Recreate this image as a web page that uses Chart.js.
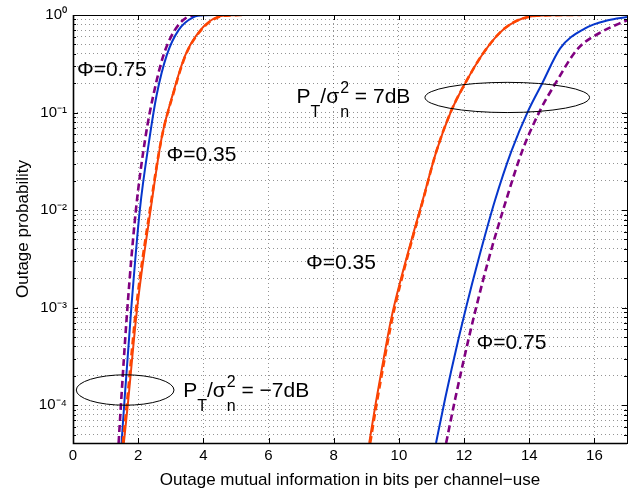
<!DOCTYPE html>
<html><head><meta charset="utf-8">
<script src="https://cdn.jsdelivr.net/npm/chart.js@4.4.1/dist/chart.umd.min.js"></script>
<style>html,body{margin:0;padding:0;background:#fff}#wrap{width:636px;height:495px}</style>
</head><body><div id="wrap"><canvas id="c" width="636" height="495"></canvas></div>
<script>
// ---------- data ----------
const xTickValues = [0, 2, 4, 6, 8, 10, 12, 14, 16];
const yTickValues = [1e-4, 1e-3, 1e-2, 1e-1, 1];
const yTickLabels = ['10\u207B\u2074', '10\u207B\u00B3', '10\u207B\u00B2', '10\u207B\u00B9', '10\u2070'];

// P_T/sigma^2 = -7 dB group
const leftPurpleX = [1.40, 1.47, 1.67, 1.93, 2.22, 2.47, 2.78, 3.09, 3.50, 3.80, 3.95];
const leftPurpleP = [4.1e-5, 1e-4, 1e-3, 1e-2, 0.055, 0.153, 0.39, 0.67, 0.95, 0.995, 1];
const leftBlueX = [1.49, 1.57, 1.79, 2.05, 2.35, 2.57, 2.88, 3.24, 3.70, 4.05, 4.40];
const leftBlueP = [4.1e-5, 1e-4, 1e-3, 1e-2, 0.055, 0.153, 0.39, 0.70, 0.95, 0.995, 1];
const leftOrangeX = [1.56, 1.68, 1.97, 2.38, 2.72, 3.06, 3.45, 3.91, 4.42, 4.90, 5.30];
const leftOrangeP = [4.1e-5, 1e-4, 1e-3, 1e-2, 0.055, 0.153, 0.39, 0.70, 0.95, 0.995, 1];
const leftOrangeDashX = [1.53, 1.65, 1.94, 2.36, 2.72, 3.07, 3.46, 3.93, 4.45, 4.90, 5.20];
const leftOrangeDashP = [4.1e-5, 1e-4, 1e-3, 1e-2, 0.055, 0.153, 0.39, 0.70, 0.95, 0.995, 1];

// P_T/sigma^2 = 7 dB group
const rightOrangeX = [9.09, 9.29, 9.46, 9.72, 9.84, 10.22, 10.73, 11.15, 11.60, 12.01, 12.62, 13.24, 13.96, 14.70, 15.85];
const rightOrangeP = [4.1e-5, 1.05e-4, 2.2e-4, 6.5e-4, 1e-3, 3.1e-3, 1.26e-2, 0.04, 0.103, 0.193, 0.42, 0.726, 0.955, 0.995, 1];
const rightOrangeDashX = [9.12, 9.32, 9.49, 9.75, 9.87, 10.24, 10.74, 11.15, 11.60, 12.01, 12.62, 13.24, 13.96, 14.70, 15.60];
const rightOrangeDashP = [4.1e-5, 1.05e-4, 2.2e-4, 6.5e-4, 1e-3, 3.1e-3, 1.26e-2, 0.04, 0.103, 0.193, 0.42, 0.726, 0.955, 0.995, 1];
const rightBlueX = [11.14, 11.42, 11.83, 12.06, 12.44, 12.95, 13.45, 13.96, 14.40, 14.95, 15.70, 16.42, 17.0];
const rightBlueP = [4.1e-5, 1.17e-4, 4.8e-4, 1e-3, 3.1e-3, 1.26e-2, 0.04, 0.103, 0.2, 0.455, 0.726, 0.883, 0.955];
const rightPurpleX = [11.45, 11.73, 12.14, 12.37, 12.75, 13.29, 13.78, 14.32, 14.78, 15.50, 16.22, 17.0];
const rightPurpleP = [4.1e-5, 1.17e-4, 4.8e-4, 1e-3, 3.1e-3, 1.26e-2, 0.04, 0.103, 0.193, 0.455, 0.671, 0.883];

// ---------- styling / layout ----------
const FONT = '"Liberation Sans", Arial, Helvetica, sans-serif';
const Y_MIN = 4.1e-5;
const ORANGE = '#FF4500', ORANGE_D = '#F0400C', BLUE = '#0636CC', PURPLE = '#800080';
const GRID = 'rgba(0,0,0,0.42)';

function pts(xs, ps) { return xs.map((x, i) => ({x: x, y: ps[i]})); }

function yGridValues() {
  const out = [];
  for (let e = -5; e <= 0; e++) {
    for (let m = 1; m <= 9; m++) {
      const v = m * Math.pow(10, e);
      if (v >= Y_MIN * 0.999 && v <= 1.0001) out.push(v);
      if (e === 0) break;
    }
  }
  return out;
}
function yLabel(v) {
  for (let i = 0; i < yTickValues.length; i++) {
    if (Math.abs(Math.log10(v) - Math.log10(yTickValues[i])) < 1e-6) return yTickLabels[i];
  }
  return '';
}

function solid(data, color, order) {
  return {data: data, borderColor: color, borderWidth: 2, pointRadius: 0, fill: false,
          cubicInterpolationMode: 'monotone', order: order};
}
function dashed(data, color, order) {
  return {data: data, borderColor: color, borderWidth: 2.6, borderDash: [7, 4], pointRadius: 0, fill: false,
          cubicInterpolationMode: 'monotone', order: order};
}

const datasets = [
  dashed(pts(leftOrangeDashX, leftOrangeDashP), ORANGE, 0),
  solid(pts(leftOrangeX, leftOrangeP), ORANGE_D, 1),
  solid(pts(leftBlueX, leftBlueP), BLUE, 2),
  dashed(pts(leftPurpleX, leftPurpleP), PURPLE, 3),
  dashed(pts(rightOrangeDashX, rightOrangeDashP), ORANGE, 0),
  solid(pts(rightOrangeX, rightOrangeP), ORANGE_D, 1),
  solid(pts(rightBlueX, rightBlueP), BLUE, 2),
  dashed(pts(rightPurpleX, rightPurpleP), PURPLE, 3)
];

function drawPLabel(ctx, x, y, tail) {
  const big = '21px ' + FONT, small = '16px ' + FONT;
  ctx.font = big; ctx.fillText('P', x, y); x += ctx.measureText('P').width;
  ctx.font = small; ctx.fillText('T', x, y + 14); x += ctx.measureText('T').width;
  ctx.font = big; ctx.fillText('/\u03C3', x, y); x += ctx.measureText('/\u03C3').width;
  ctx.font = small; ctx.fillText('2', x + 1, y - 10); ctx.fillText('n', x + 1, y + 14);
  x += Math.max(ctx.measureText('2').width, ctx.measureText('n').width) + 1;
  ctx.font = big; ctx.fillText(tail, x, y);
}

const decor = {
  id: 'decor',
  afterDatasetsDraw(chart) {
    const {ctx, chartArea: a, scales: {x, y}} = chart;
    ctx.save();
    // inward tick marks
    ctx.strokeStyle = '#000'; ctx.lineWidth = 1;
    ctx.beginPath();
    xTickValues.forEach(v => {
      const px = Math.round(x.getPixelForValue(v)) + 0.5;
      ctx.moveTo(px, a.bottom); ctx.lineTo(px, a.bottom - 5);
      ctx.moveTo(px, a.top); ctx.lineTo(px, a.top + 5);
    });
    yGridValues().forEach(v => {
      const py = Math.round(y.getPixelForValue(v)) + 0.5;
      const len = yLabel(v) ? 5 : 3;
      ctx.moveTo(a.left, py); ctx.lineTo(a.left + len, py);
      ctx.moveTo(a.right, py); ctx.lineTo(a.right - len, py);
    });
    ctx.stroke();
    // box
    ctx.lineWidth = 1;
    ctx.strokeRect(Math.round(a.left) + 0.5, Math.round(a.top) + 0.5,
                   Math.round(a.right - a.left), Math.round(a.bottom - a.top));
    ctx.lineWidth = 1.6;
    ctx.beginPath();
    ctx.moveTo(Math.round(a.left) + 0.5, a.top); ctx.lineTo(Math.round(a.left) + 0.5, a.bottom + 0.5);
    ctx.lineTo(a.right, Math.round(a.bottom) + 0.5);
    ctx.stroke();

    // ellipses
    ctx.lineWidth = 1;
    const ell = (x0, x1, p0, p1) => {
      const l = x.getPixelForValue(x0), r = x.getPixelForValue(x1);
      const t = y.getPixelForValue(p1), b = y.getPixelForValue(p0);
      ctx.beginPath();
      ctx.ellipse((l + r) / 2, (t + b) / 2, (r - l) / 2, (b - t) / 2, 0, 0, Math.PI * 2);
      ctx.stroke();
    };
    ell(0.1, 3.1, 1.0e-4, 2.05e-4);
    ell(10.8, 15.85, 0.1, 0.204);

    // text annotations
    ctx.fillStyle = '#000';
    ctx.textBaseline = 'alphabetic'; ctx.textAlign = 'left';
    ctx.font = '21px ' + FONT;
    const txt = (s, xv, lg) => ctx.fillText(s, x.getPixelForValue(xv), y.getPixelForValue(Math.pow(10, lg)));
    txt('\u03A6=0.75', 0.12, -0.622);
    txt('\u03A6=0.35', 2.87, -1.50);
    txt('\u03A6=0.35', 7.15, -2.605);
    txt('\u03A6=0.75', 12.38, -3.42);
    drawPLabel(ctx, x.getPixelForValue(6.86), y.getPixelForValue(Math.pow(10, -0.905)), ' = 7dB');
    drawPLabel(ctx, x.getPixelForValue(3.38), y.getPixelForValue(Math.pow(10, -3.915)), ' = \u22127dB');
    ctx.restore();
  }
};

new Chart(document.getElementById('c'), {
  type: 'line',
  data: {datasets: datasets},
  options: {
    responsive: false, animation: false, devicePixelRatio: 1,
    layout: {padding: {top: 13, right: 9, left: 0, bottom: 0}},
    plugins: {legend: {display: false}, tooltip: {enabled: false}},
    scales: {
      x: {
        type: 'linear', min: 0, max: 17,
        afterFit: s => { s.height = 52; },
        ticks: {stepSize: 2, includeBounds: false, padding: 4, color: '#000', autoSkip: false, maxRotation: 0,
                font: {family: FONT, size: 15}},
        grid: {color: GRID, drawTicks: false},
        border: {display: false, dash: [1, 3]},
        title: {display: true, text: 'Outage mutual information in bits per channel\u2212use', color: '#000',
                font: {family: FONT, size: 17}, padding: {top: 0, bottom: 4}}
      },
      y: {
        type: 'logarithmic', min: Y_MIN, max: 1,
        afterBuildTicks: s => { s.ticks = yGridValues().map(v => ({value: v})); },
        afterFit: s => { s.width = 73; },
        ticks: {autoSkip: false, padding: 6, color: '#000', font: {family: FONT, size: 15},
                callback: v => yLabel(v)},
        grid: {color: GRID, drawTicks: false},
        border: {display: false, dash: [1, 3]},
        title: {display: true, text: 'Outage probability', color: '#000',
                font: {family: FONT, size: 17}, padding: {top: 13, bottom: 0}}
      }
    }
  },
  plugins: [decor]
});
</script>
</body></html>
